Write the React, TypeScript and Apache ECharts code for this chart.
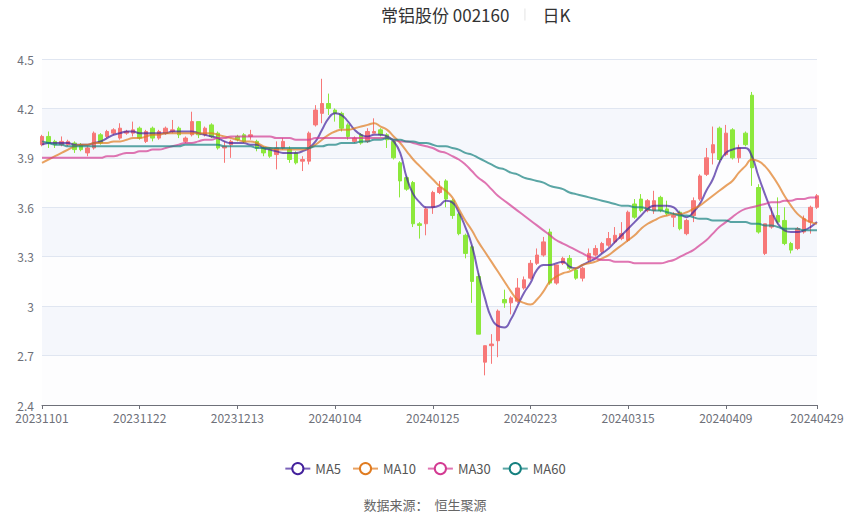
import React, { useEffect, useRef } from "react";
import * as echarts from "echarts";

const dates = [
  "20231101","20231102","20231103","20231106","20231107","20231108","20231109","20231110","20231113","20231114","20231115","20231116","20231117","20231120","20231121","20231122","20231123","20231124","20231127","20231128","20231129","20231130",
  "20231201","20231204","20231205","20231206","20231207","20231208","20231211","20231212","20231213","20231214","20231215","20231218","20231219","20231220","20231221","20231222","20231225","20231226","20231227","20231228","20231229",
  "20240102","20240103","20240104","20240105","20240108","20240109","20240110","20240111","20240112","20240115","20240116","20240117","20240118","20240119","20240122","20240123","20240124","20240125","20240126","20240129","20240130","20240131",
  "20240201","20240202","20240205","20240206","20240207","20240208","20240219","20240220","20240221","20240222","20240223","20240226","20240227","20240228","20240229",
  "20240301","20240304","20240305","20240306","20240307","20240308","20240311","20240312","20240313","20240314","20240315","20240318","20240319","20240320","20240321","20240322","20240325","20240326","20240327","20240328","20240329",
  "20240401","20240402","20240403","20240408","20240409","20240410","20240411","20240412","20240415","20240416","20240417","20240418","20240419","20240422","20240423","20240424","20240425","20240426","20240429",
];

const opens = [
  3.98,4.03,4.00,3.98,3.98,3.99,3.98,3.93,3.96,4.04,4.03,4.05,4.02,4.05,4.05,4.08,4.00,4.08,4.02,4.05,4.06,4.08,
  4.00,4.04,4.12,4.04,4.10,4.05,3.96,3.98,4.03,4.04,4.03,4.00,3.96,3.95,3.92,3.96,3.95,3.93,3.88,3.88,4.10,
  4.17,4.23,4.19,4.17,4.10,4.00,4.04,4.00,4.05,4.07,4.04,4.00,3.87,3.78,3.75,3.50,3.50,3.60,3.69,3.76,3.64,3.56,
  3.43,3.36,3.18,2.66,2.76,2.79,3.04,3.02,3.03,3.11,3.17,3.26,3.31,3.45,3.14,
  3.26,3.29,3.22,3.17,3.28,3.31,3.33,3.37,3.39,3.41,3.40,3.62,3.65,3.58,3.58,3.66,3.59,3.54,3.57,3.44,3.55,
  3.65,3.80,3.93,4.08,3.92,4.07,3.90,4.05,4.28,3.72,3.32,3.48,3.55,3.52,3.38,3.35,3.45,3.51,3.60,
];
const closes = [
  4.03,3.99,3.98,4.00,4.00,3.95,3.95,3.96,4.05,3.99,4.06,4.07,4.08,4.06,4.07,4.02,4.06,4.02,4.06,4.08,4.07,4.04,
  4.02,4.12,4.04,4.08,4.03,3.96,3.97,4.00,4.01,4.00,4.04,3.96,3.93,3.91,3.96,4.00,3.89,3.87,3.89,4.05,4.19,
  4.23,4.20,4.17,4.08,4.03,4.02,3.99,4.06,4.06,4.04,4.01,3.90,3.76,3.71,3.50,3.49,3.59,3.69,3.72,3.65,3.55,3.44,
  3.32,3.15,2.83,2.76,2.77,2.97,3.02,3.05,3.11,3.16,3.26,3.31,3.39,3.14,3.25,
  3.29,3.23,3.17,3.23,3.32,3.35,3.38,3.41,3.43,3.44,3.57,3.54,3.58,3.64,3.64,3.58,3.56,3.55,3.47,3.52,3.64,
  3.79,3.90,3.98,3.89,4.05,3.90,3.96,3.98,3.84,3.45,3.50,3.55,3.51,3.38,3.34,3.47,3.53,3.60,3.67,
];
const lows = [
  3.97,3.96,3.96,3.97,3.97,3.93,3.94,3.91,3.95,3.98,4.02,4.04,4.01,4.04,4.03,4.01,3.99,4.00,4.01,4.04,4.05,4.02,
  3.99,4.03,4.02,4.03,4.02,3.95,3.87,3.90,4.00,3.99,4.01,3.94,3.91,3.90,3.83,3.95,3.87,3.86,3.82,3.86,4.09,
  4.11,4.16,4.12,4.06,4.01,3.99,3.98,3.99,4.05,4.03,3.96,3.89,3.66,3.70,3.48,3.41,3.43,3.56,3.68,3.60,3.53,3.43,
  3.29,3.02,2.83,2.58,2.65,2.69,2.99,2.95,3.02,3.10,3.16,3.25,3.30,3.13,3.13,
  3.25,3.22,3.16,3.15,3.27,3.30,3.32,3.36,3.38,3.40,3.39,3.53,3.57,3.57,3.56,3.57,3.55,3.48,3.46,3.43,3.51,
  3.64,3.79,3.86,3.87,3.91,3.89,3.87,3.97,3.73,3.44,3.31,3.47,3.50,3.37,3.32,3.34,3.44,3.44,3.59,
];
const highs = [
  4.04,4.06,4.01,4.03,4.01,4.00,3.99,3.97,4.06,4.05,4.07,4.08,4.11,4.07,4.12,4.09,4.07,4.09,4.07,4.09,4.13,4.09,
  4.03,4.18,4.12,4.09,4.11,4.06,4.00,4.01,4.04,4.05,4.07,4.01,3.97,3.96,4.00,4.02,3.97,3.94,3.91,4.06,4.22,
  4.38,4.29,4.20,4.18,4.11,4.03,4.05,4.08,4.14,4.08,4.05,4.01,3.88,3.79,3.76,3.51,3.60,3.70,3.76,3.77,3.65,3.57,
  3.44,3.37,3.20,2.76,2.83,2.98,3.10,3.06,3.17,3.18,3.28,3.35,3.42,3.47,3.25,
  3.30,3.31,3.23,3.24,3.35,3.37,3.39,3.45,3.48,3.51,3.58,3.65,3.68,3.65,3.70,3.67,3.64,3.57,3.58,3.53,3.66,
  3.80,3.96,4.09,4.09,4.10,4.08,3.98,4.06,4.30,3.74,3.50,3.60,3.66,3.60,3.39,3.48,3.55,3.61,3.68,
];

const ma5 = [
  3.98,3.99,3.99,3.99,3.99,3.98,3.98,3.98,3.99,4.00,4.02,4.04,4.05,4.06,4.06,4.05,4.05,4.05,4.05,4.05,4.06,4.06,
  4.06,4.06,4.05,4.04,4.03,4.02,4.00,3.99,3.99,3.99,3.98,3.98,3.96,3.95,3.94,3.93,3.93,3.93,3.94,3.96,4.00,
  4.07,4.14,4.17,4.16,4.12,4.07,4.04,4.03,4.04,4.04,4.03,4.00,3.93,3.78,3.68,3.63,3.60,3.60,3.61,3.64,3.63,3.57,
  3.48,3.37,3.20,3.05,2.93,2.88,2.87,2.92,3.00,3.08,3.14,3.22,3.25,3.25,3.26,
  3.27,3.24,3.23,3.25,3.27,3.29,3.32,3.35,3.39,3.43,3.47,3.51,3.55,3.59,3.61,3.61,3.61,3.60,3.56,3.54,3.57,
  3.62,3.70,3.77,3.87,3.93,3.95,3.96,3.96,3.91,3.79,3.68,3.58,3.50,3.46,3.45,3.45,3.46,3.48,3.51,
];
const ma10 = [
  3.87,3.89,3.91,3.93,3.95,3.97,3.98,3.98,3.99,3.99,3.99,4.00,4.00,4.01,4.02,4.02,4.03,4.04,4.04,4.05,4.05,4.05,
  4.05,4.05,4.05,4.05,4.05,4.04,4.03,4.02,4.01,4.00,4.00,3.99,3.97,3.96,3.95,3.95,3.95,3.95,3.95,3.96,3.98,
  4.01,4.04,4.06,4.07,4.07,4.08,4.09,4.10,4.11,4.09,4.07,4.03,3.99,3.94,3.89,3.85,3.81,3.77,3.73,3.70,3.66,3.59,
  3.52,3.46,3.39,3.33,3.27,3.21,3.15,3.09,3.04,3.02,3.01,3.04,3.09,3.15,3.18,
  3.20,3.21,3.23,3.25,3.26,3.27,3.29,3.31,3.34,3.37,3.40,3.43,3.47,3.50,3.52,3.54,3.55,3.56,3.56,3.57,3.59,
  3.61,3.64,3.67,3.70,3.73,3.76,3.81,3.85,3.89,3.88,3.85,3.80,3.74,3.67,3.61,3.56,3.53,3.51,3.50,
];
const ma30 = [
  3.90,3.90,3.90,3.90,3.90,3.90,3.90,3.90,3.90,3.90,3.91,3.91,3.92,3.93,3.93,3.94,3.94,3.95,3.95,3.96,3.97,3.98,
  3.99,3.99,4.00,4.01,4.01,4.02,4.02,4.03,4.03,4.03,4.03,4.03,4.03,4.03,4.02,4.02,4.02,4.01,4.01,4.01,4.02,
  4.02,4.02,4.02,4.02,4.02,4.02,4.02,4.02,4.02,4.02,4.02,4.01,4.00,4.00,3.99,3.98,3.97,3.96,3.94,3.93,3.91,3.89,
  3.86,3.82,3.78,3.75,3.71,3.67,3.64,3.61,3.58,3.55,3.52,3.49,3.46,3.43,3.40,
  3.38,3.36,3.34,3.32,3.30,3.29,3.28,3.28,3.27,3.27,3.27,3.26,3.26,3.26,3.26,3.26,3.27,3.28,3.30,3.32,3.34,
  3.37,3.40,3.44,3.48,3.51,3.54,3.57,3.59,3.60,3.61,3.62,3.63,3.63,3.64,3.64,3.65,3.65,3.66,3.66,
];
const ma60 = [
  4.00,3.99,3.98,3.98,3.97,3.97,3.97,3.97,3.97,3.97,3.97,3.97,3.97,3.97,3.97,3.97,3.97,3.97,3.97,3.97,3.97,3.97,
  3.98,3.98,3.98,3.98,3.98,3.98,3.97,3.97,3.97,3.97,3.97,3.96,3.96,3.96,3.96,3.96,3.96,3.96,3.96,3.96,3.97,
  3.97,3.98,3.98,3.99,3.99,3.99,4.00,4.00,4.01,4.01,4.02,4.01,4.01,4.00,4.00,3.99,3.99,3.98,3.97,3.97,3.96,3.95,
  3.93,3.92,3.90,3.88,3.86,3.84,3.83,3.81,3.80,3.78,3.77,3.76,3.75,3.73,3.72,
  3.71,3.69,3.68,3.67,3.66,3.65,3.64,3.63,3.62,3.61,3.61,3.60,3.60,3.59,3.58,3.58,3.57,3.56,3.55,3.55,3.54,
  3.53,3.53,3.52,3.52,3.52,3.51,3.51,3.51,3.50,3.50,3.49,3.49,3.48,3.47,3.47,3.47,3.46,3.46,3.46,
];

const maSeries = [
  { name: "MA5", data: ma5, color: "#43219c" },
  { name: "MA10", data: ma10, color: "#e07b1f" },
  { name: "MA30", data: ma30, color: "#d33a92" },
  { name: "MA60", data: ma60, color: "#15807f" },
];

const UP = "#f77878";
const DOWN = "#8ce83c";
const FONT = '"Noto Sans CJK SC", "Noto Sans", sans-serif';

export default function App() {
  const ref = useRef<HTMLDivElement>(null);
  useEffect(() => {
    if (!ref.current) return;
    const chart = echarts.init(ref.current, null, { renderer: "svg" });
    const labelInterval = (i: number) => i % 15 === 0 || i === dates.length - 1;
    const kData = dates.map((_, i) => [opens[i], closes[i], lows[i], highs[i]]);
    chart.setOption({
      animation: false,
      textStyle: { fontFamily: FONT },
      title: {
        left: 376,
        top: 1,
        text: "{a|常铝股份 002160}{s|}{b|日K}",
        textStyle: {
          fontWeight: "normal",
          rich: {
            a: { fontSize: 17, color: "#333", fontWeight: "normal", padding: [0, 15, 0, 0], fontFamily: FONT },
            s: { width: 1, height: 12, backgroundColor: "#e3e3e3" },
            b: { fontSize: 17, color: "#333", fontWeight: "normal", padding: [0, 0, 0, 17], fontFamily: FONT },
          },
        },
      },
      legend: {
        left: "center",
        top: 457,
        itemWidth: 25,
        itemHeight: 14,
        itemGap: 11,
        textStyle: { color: "#555", fontSize: 13, fontFamily: FONT },
        data: maSeries.map((s) => s.name),
      },
      graphic: [
        {
          type: "text",
          left: "center",
          top: 498,
          style: { text: "数据来源：  恒生聚源", fill: "#666", fontSize: 13, fontFamily: FONT },
        },
      ],
      grid: { left: 42, right: 33, top: 59, bottom: 112 },
      xAxis: {
        type: "category",
        data: dates,
        boundaryGap: false,
        axisLine: { lineStyle: { color: "#6E7079" } },
        axisTick: { interval: labelInterval, length: 4 },
        axisLabel: { interval: labelInterval, color: "#6E7079", fontSize: 12, margin: 6 },
        splitLine: { show: false },
      },
      yAxis: {
        type: "value",
        min: 2.4,
        max: 4.5,
        interval: 0.3,
        axisLine: { show: false },
        axisTick: { show: false },
        axisLabel: { color: "#6E7079", fontSize: 12, margin: 8 },
        splitLine: { lineStyle: { color: "#E0E6F1" } },
        splitArea: { show: true, areaStyle: { color: ["#fdfdfe", "#f5f7fc"] } },
      },
      series: [
        {
          type: "candlestick",
          name: "日K",
          data: kData,
          barWidth: 4,
          clip: false,
          itemStyle: { color: UP, color0: DOWN, borderColor: UP, borderColor0: DOWN, borderWidth: 1 },
        },
        ...maSeries.map((s) => ({
          type: "line",
          name: s.name,
          data: s.data,
          smooth: true,
          showSymbol: false,
          symbol: "emptyCircle",
          symbolSize: 10,
          color: s.color,
          itemStyle: { color: s.color },
          lineStyle: { width: 2, opacity: 0.7, color: s.color },
        })),
      ],
    });
    return () => chart.dispose();
  }, []);
  return (
    <div
      ref={ref}
      style={{ position: "fixed", left: 0, top: 0, width: 850, height: 517, background: "#fff" }}
    />
  );
}
